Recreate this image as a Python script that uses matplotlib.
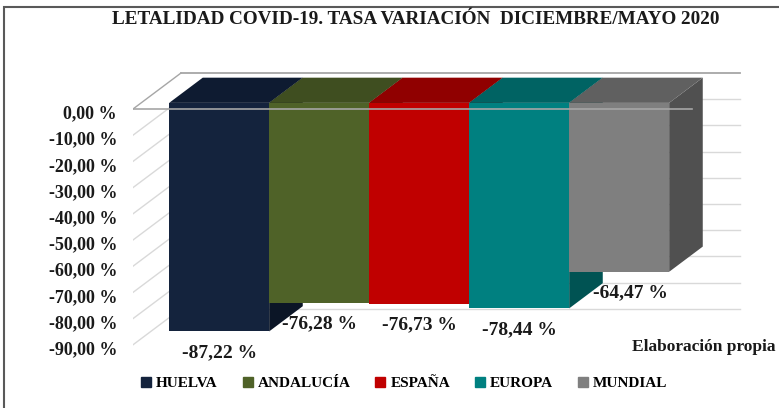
"""
Letalidad COVID-19: tasa de variación diciembre/mayo 2020.
Barras con falso 3D (proyección oblicua) al estilo de Excel.
"""

import matplotlib
matplotlib.use("Agg")
import matplotlib.pyplot as plt
from matplotlib.patches import Polygon, Rectangle
from matplotlib.lines import Line2D
from matplotlib.font_manager import FontProperties
from matplotlib.transforms import ScaledTranslation

# ───── Datos ─────
CATEGORIES = ["HUELVA", "ANDALUCÍA", "ESPAÑA", "EUROPA", "MUNDIAL"]
VALUES = [-87.22, -76.28, -76.73, -78.44, -64.47]
Y_TICKS = [0, -10, -20, -30, -40, -50, -60, -70, -80, -90]
Y_TICK_LABELS = ["0,00 %", "-10,00 %", "-20,00 %", "-30,00 %", "-40,00 %",
                 "-50,00 %", "-60,00 %", "-70,00 %", "-80,00 %", "-90,00 %"]

FRONT_COLORS = ["#14233d", "#4f6228", "#c00000", "#008080", "#7f7f7f"]
TOP_COLORS = ["#0e1b31", "#3f4e20", "#900000", "#006363", "#606060"]
SIDE_COLORS = ["#0b1526", "#323e19", "#700000", "#005353", "#505050"]

TITLE = "LETALIDAD COVID-19. TASA VARIACIÓN  DICIEMBRE/MAYO 2020"
SOURCE = "Elaboración propia"

# ───── Geometría del falso 3D ─────
DX, DY = 0.48, 13.74        # vector de profundidad (unidades de datos)
BAR_D0, BAR_D1 = 0.17, 0.87  # profundidad de cara frontal / trasera
WALL_X = -0.78               # pared lateral izquierda (frente)
FLOOR_RIGHT = 4.81           # borde derecho de la línea 0 frontal
GRID_LIGHT = "#d9d9d9"
GRID_DARK = "#a6a6a6"
TEXT_COL = "#1a1a1a"
FONT = "Liberation Serif"


def serif(size, weight="bold"):
    return FontProperties(family=FONT, weight=weight, size=size)


W, H = 779, 408
fig = plt.figure(figsize=(W / 100, H / 100), dpi=100)
fig.patch.set_facecolor("white")

ax = fig.add_axes([133 / W, 48 / H, 612 / W, 300 / H])
ax.set_xlim(WALL_X, 5.34)
ax.set_ylim(-95.80, 18.70)
ax.set_facecolor("none")
for s in ax.spines.values():
    s.set_visible(False)
ax.set_xticks([])
ax.set_yticks(Y_TICKS, Y_TICK_LABELS)
ax.tick_params(axis="y", length=0, pad=11.5)
shift_down = ScaledTranslation(0, -3 / 100, fig.dpi_scale_trans)
for t in ax.get_yticklabels():
    t.set_fontproperties(serif(13))
    t.set_color(TEXT_COL)
    t.set_transform(t.get_transform() + shift_down)

# paredes: líneas laterales y del fondo
for v in Y_TICKS:
    col = GRID_DARK if v == 0 else GRID_LIGHT
    ax.plot([WALL_X, WALL_X + DX], [v, v + DY], color=col, lw=1, zorder=1)
    ax.plot([WALL_X + DX, FLOOR_RIGHT + DX], [v + DY, v + DY],
            color=col, lw=1.3 if v == 0 else 1, zorder=1)

# barras, de izquierda a derecha
for i, v in enumerate(VALUES):
    x0, x1 = i - 0.5, i + 0.5
    fx, fy = BAR_D0 * DX, BAR_D0 * DY
    bx, by = BAR_D1 * DX, BAR_D1 * DY
    side = [(x1 + fx, fy), (x1 + bx, by), (x1 + bx, v + by), (x1 + fx, v + fy)]
    top = [(x0 + fx, fy), (x1 + fx, fy), (x1 + bx, by), (x0 + bx, by)]
    front = [(x0 + fx, fy), (x1 + fx, fy), (x1 + fx, v + fy), (x0 + fx, v + fy)]
    ax.add_patch(Polygon(side, closed=True, facecolor=SIDE_COLORS[i], lw=0, zorder=2))
    ax.add_patch(Polygon(top, closed=True, facecolor=TOP_COLORS[i], lw=0, zorder=2))
    ax.add_patch(Polygon(front, closed=True, facecolor=FRONT_COLORS[i], lw=0, zorder=2))

# línea 0 frontal, por delante de las barras
ax.plot([WALL_X, FLOOR_RIGHT], [0, 0], color=GRID_DARK, lw=1.2, zorder=3)

# etiquetas de datos
label_nudge = [0, 0, 0, 0, 11]
for i, v in enumerate(VALUES):
    txt = f"{v:.2f}".replace(".", ",") + " %"
    ax.annotate(txt, (i + BAR_D0 * DX, v + BAR_D0 * DY),
                xytext=(label_nudge[i], -21), textcoords="offset pixels",
                ha="center", va="center", fontproperties=serif(14),
                color=TEXT_COL, zorder=4, annotation_clip=False)

# título, fuente y marco
fig.text(416 / W, 1 - 20 / H, TITLE, ha="center", va="center",
         fontproperties=serif(13.8), color=TEXT_COL)
fig.text(776 / W, 1 - 347 / H, SOURCE, ha="right", va="center",
         fontproperties=serif(12.5, "semibold"), color=TEXT_COL)
fig.patches.append(Rectangle((4 / W, -0.02), 1.0, 1 - 7 / H + 0.02,
                             transform=fig.transFigure, fill=False,
                             edgecolor="#595959", lw=1.5))

# leyenda
handles = [Line2D([], [], marker="s", linestyle="none", markersize=7,
                  markerfacecolor=c, markeredgecolor=c, label=n)
           for c, n in zip(FRONT_COLORS, CATEGORIES)]
fig.legend(handles=handles, loc="center", bbox_to_anchor=(404 / W, 1 - 383 / H),
           ncol=5, frameon=False, handlelength=0.7, handletextpad=0.3,
           columnspacing=1.6, prop=serif(11))

fig.savefig("out.png", dpi=100)
